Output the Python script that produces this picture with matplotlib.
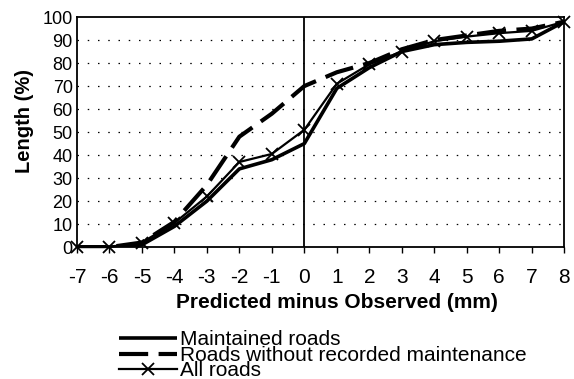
import numpy as np
import matplotlib
matplotlib.use("Agg")
import matplotlib.pyplot as plt

plt.rcParams["font.family"] = ["Liberation Sans", "DejaVu Sans"]
plt.rcParams["axes.unicode_minus"] = False

# Cumulative length (%) by prediction error class
error_mm = [-7, -6, -5, -4, -3, -2, -1, 0, 1, 2, 3, 4, 5, 6, 7, 8]
maintained = [0, 0, 1, 9, 20, 34, 38, 45, 69, 78, 85, 88, 89, 89.5, 90.5, 98]
no_maint = [0, 0, 2, 11, 27, 48, 58, 70, 76, 80, 86, 90, 92, 94, 95, 98]
all_roads = [0, 0, 2, 10.5, 22, 37, 40.5, 51, 71, 79.5, 85, 89.5, 91.5, 93, 94, 98]

y_ticks = list(range(0, 101, 10))

fig = plt.figure(figsize=(5.74, 3.79), dpi=100)
ax = fig.add_axes([0.134, 0.348, 0.849, 0.607])

# dotted horizontal grid
for yv in y_ticks[1:-1]:
    ax.axhline(yv, color="black", lw=0.9, ls=(0, (1.2, 7)), zorder=1)
# vertical axis line crossing at zero
ax.axvline(0, color="black", lw=1.3, zorder=2)

ax.plot(error_mm, maintained, color="black", lw=2.6, solid_capstyle="butt",
        label="Maintained roads", zorder=3)
ax.plot(error_mm, no_maint, color="black", lw=3.0, dashes=(7, 2.5),
        label="Roads without recorded maintenance", zorder=3)
ax.plot(error_mm, all_roads, color="black", lw=1.6, marker="x", ms=9, mew=1.3,
        label="All roads", zorder=4, clip_on=False)

ax.set_xlim(-7, 8)
ax.set_ylim(0, 100)
ax.set_xticks(error_mm)
ax.set_yticks(y_ticks)
ax.tick_params(axis="x", direction="out", length=4, width=1, pad=11, labelsize=15)
ax.tick_params(axis="y", length=0, pad=3, labelsize=13)
for s in ax.spines.values():
    s.set_linewidth(1.3)

ax.set_xlabel("Predicted minus Observed (mm)", fontsize=15, fontweight="bold")
ax.xaxis.set_label_coords(0.534, -0.2)
ax.set_ylabel("Length (%)", fontsize=14.5, fontweight="bold")
ax.yaxis.set_label_coords(-0.088, 0.55)

fig.legend(loc="upper left", bbox_to_anchor=(0.207, 0.128), frameon=False,
           fontsize=15, handlelength=2.8, handletextpad=0.15, labelspacing=-0.17,
           borderaxespad=0, borderpad=0)

fig.savefig("out.png", dpi=100)
